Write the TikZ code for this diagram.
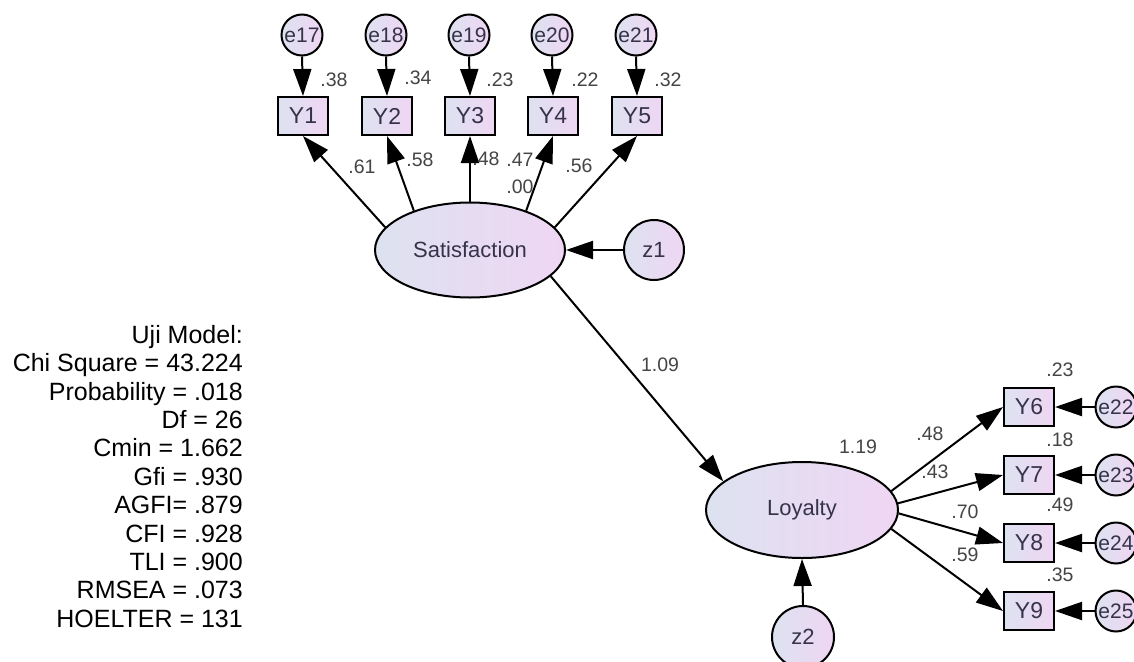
\documentclass[tikz,border=0pt]{standalone}
\usepackage{fontspec}
\setmainfont{Liberation Sans}
\usetikzlibrary{arrows.meta,shapes.geometric}
\definecolor{fillL}{HTML}{DDE2F0}
\definecolor{fillR}{HTML}{EFD6F3}
\definecolor{nodetxt}{HTML}{363349}
\definecolor{lbltxt}{HTML}{454545}
\tikzset{
  semnode/.style={draw=black, line width=2pt, left color=fillL, right color=fillR, text=nodetxt, inner sep=0pt},
  obsbox/.style={semnode, rectangle, minimum width=50pt, minimum height=38pt, font=\fontsize{23}{23}\selectfont},
  errc/.style={semnode, circle, minimum size=41pt, font=\fontsize{21}{21}\selectfont},
  distc/.style={semnode, circle, minimum size=60pt, font=\fontsize{22}{22}\selectfont},
  latent/.style={semnode, ellipse, minimum width=190pt, minimum height=95pt, font=\fontsize{22}{22}\selectfont},
  path/.style={draw=black, line width=2pt, -{Triangle[length=27pt,width=18pt]}},
  lbl/.style={text=lbltxt, font=\fontsize{19.5}{19.5}\selectfont, inner sep=0pt},
  fittxt/.style={text=black, font=\fontsize{25}{28.4}\selectfont, align=right, inner sep=0pt}
}
\begin{document}
\begin{tikzpicture}[x=1pt,y=-1pt]
\clip (0,0) rectangle (1134,661);
\fill[white] (0,0) rectangle (1134,661);
% top error circles
\node[errc] (e17) at (302,35) {e17};
\node[errc] (e18) at (386,35) {e18};
\node[errc] (e19) at (469,35) {e19};
\node[errc] (e20) at (552,35) {e20};
\node[errc] (e21) at (636,35) {e21};
% top indicators
\node[obsbox] (Y1) at (303,116) {Y1};
\node[obsbox] (Y2) at (387,116) {Y2};
\node[obsbox] (Y3) at (470,116) {Y3};
\node[obsbox] (Y4) at (553,116) {Y4};
\node[obsbox] (Y5) at (637,116) {Y5};
% latents
\node[latent] (Sat) at (470,250) {Satisfaction};
\node[distc] (z1) at (654,250) {z1};
\node[latent, minimum width=192pt, minimum height=96pt] (Loy) at (802,510) {Loyalty};
\node[distc, minimum size=62pt] (z2) at (803,637) {z2};
% right indicators
\node[obsbox] (Y6) at (1029,407) {Y6};
\node[obsbox] (Y7) at (1029,475) {Y7};
\node[obsbox] (Y8) at (1029,543) {Y8};
\node[obsbox] (Y9) at (1029,611) {Y9};
\node[errc] (e22) at (1116,407) {e22};
\node[errc] (e23) at (1116,475) {e23};
\node[errc] (e24) at (1116,543) {e24};
\node[errc] (e25) at (1116,611) {e25};
% paths
\foreach \e/\y in {e17/Y1,e18/Y2,e19/Y3,e20/Y4,e21/Y5}
  \draw[path] (\e.south) -- (\y.north);
\draw[path] (Sat.165) -- (Y1.south);
\draw[path] (Sat.145) -- (Y2.south);
\draw[path] (Sat.90) -- (Y3.south);
\draw[path] (Sat.35) -- (Y4.south);
\draw[path] (Sat.15.5) -- (Y5.south);
\draw[path] (z1.west) -- (Sat.east);
\draw[path] (Sat.-18) -- (Loy.160.7);
\draw[path] (z2.north) -- (Loy.south);
\draw[path] (Loy.12.4) -- (Y6.west);
\draw[path] (Loy.4.3) -- (Y7.west);
\draw[path] (Loy.-2) -- (Y8.west);
\draw[path] (Loy.-12.4) -- (Y9.west);
\foreach \e/\y in {e22/Y6,e23/Y7,e24/Y8,e25/Y9}
  \draw[path] (\e.west) -- (\y.east);
% labels
\node[lbl] (l38) at (334,80) {.38};
\node[lbl] (l34) at (418,78) {.34};
\node[lbl] (l23a) at (500,80) {.23};
\node[lbl] (l22) at (585,80) {.22};
\node[lbl] (l32) at (668,80) {.32};
\node[lbl] (l61) at (362,167) {.61};
\node[lbl] (l58) at (420,160) {.58};
\node[lbl] (l48a) at (486,159) {.48};
\node[lbl] (l47) at (520,160) {.47};
\node[lbl] (l00) at (520,187) {.00};
\node[lbl] (l56) at (579,166) {.56};
\node[lbl] (l109) at (660,365) {1.09};
\node[lbl] (l119) at (858,447) {1.19};
\node[lbl] (l23b) at (1060,370) {.23};
\node[lbl] (l18) at (1060,440) {.18};
\node[lbl] (l49) at (1060,505) {.49};
\node[lbl] (l35) at (1060,575) {.35};
\node[lbl] (l48b) at (930,434) {.48};
\node[lbl] (l43) at (935,472) {.43};
\node[lbl] (l70) at (965,512) {.70};
\node[lbl] (l59) at (965,555) {.59};
% fit text
\node[fittxt, anchor=north east] (fit) at (243,325) {Uji Model:\\Chi Square = 43.224\\Probability = .018\\Df = 26\\Cmin = 1.662\\Gfi = .930\\AGFI= .879\\CFI = .928\\TLI = .900\\RMSEA = .073\\HOELTER = 131};
\end{tikzpicture}
\end{document}
